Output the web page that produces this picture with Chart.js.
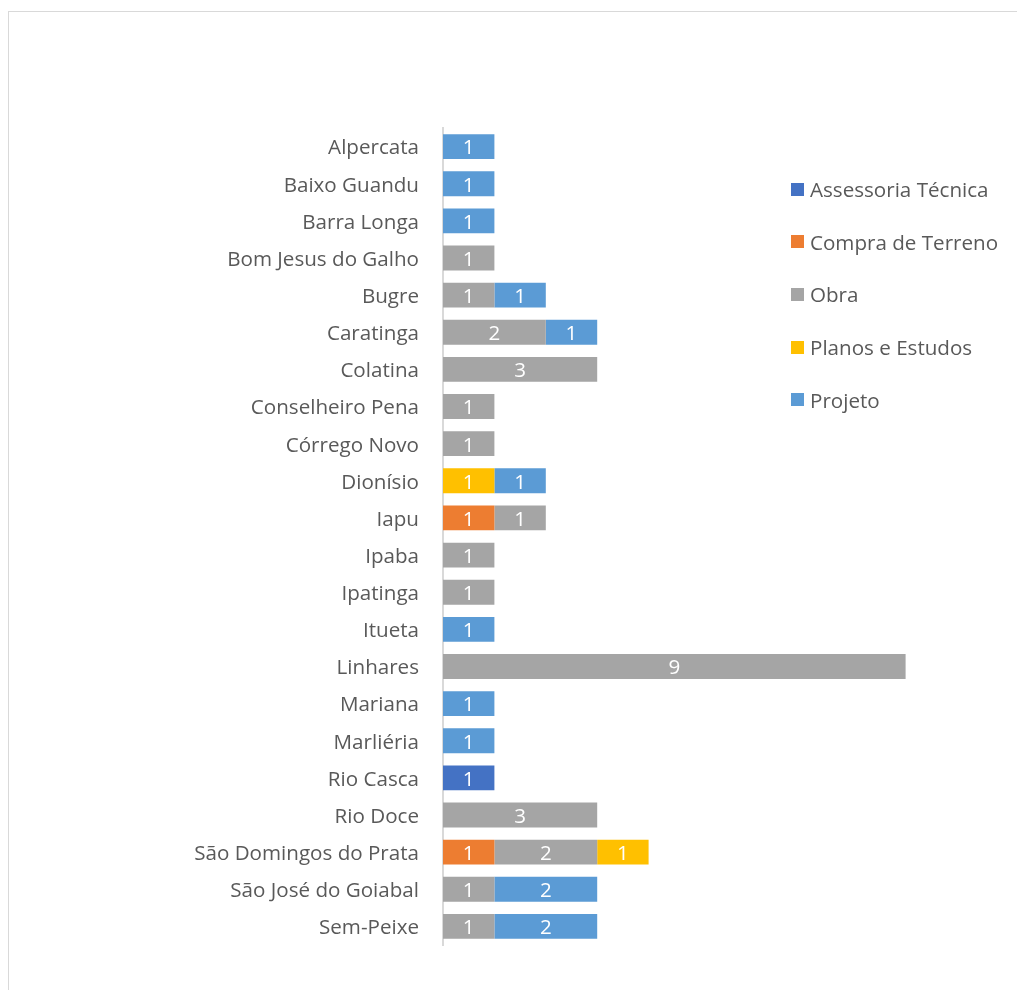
<!DOCTYPE html>
<html>
<head>
<meta charset="utf-8">
<script src="https://cdn.jsdelivr.net/npm/chart.js@4.4.1/dist/chart.umd.min.js"></script>
<style>
  html, body { margin: 0; padding: 0; background: #fff; }
  #wrap { position: relative; width: 1017px; height: 990px; overflow: hidden; }
  #frame { position: absolute; left: 8px; top: 11px; width: 1100px; height: 1100px; border: 1px solid #d9d9d9; box-sizing: border-box; }
  canvas { position: absolute; left: 0; top: 0; }
  #legend { position: absolute; left: 791px; top: 163px; font-family: "Open Sans", Lato, sans-serif; font-size: 20.6px; color: #595959; }
  .item { height: 52.6px; display: flex; align-items: center; white-space: nowrap; }
  .sw { width: 13px; height: 13px; margin-right: 6px; }
</style>
</head>
<body>
<div id="wrap">
  <div id="frame"></div>
  <canvas id="c" width="1017" height="990"></canvas>
  <div id="legend"></div>
</div>
<script>
const categories = ["Alpercata","Baixo Guandu","Barra Longa","Bom Jesus do Galho","Bugre","Caratinga","Colatina","Conselheiro Pena","Córrego Novo","Dionísio","Iapu","Ipaba","Ipatinga","Itueta","Linhares","Mariana","Marliéria","Rio Casca","Rio Doce","São Domingos do Prata","São José do Goiabal","Sem-Peixe"];
const seriesNames = ["Assessoria Técnica","Compra de Terreno","Obra","Planos e Estudos","Projeto"];
const assessoriaTecnica = [null,null,null,null,null,null,null,null,null,null,null,null,null,null,null,null,null,1,null,null,null,null];
const compraDeTerreno   = [null,null,null,null,null,null,null,null,null,null,1,null,null,null,null,null,null,null,null,1,null,null];
const obra              = [null,null,null,1,1,2,3,1,1,null,1,1,1,null,9,null,null,null,3,2,1,1];
const planosEEstudos    = [null,null,null,null,null,null,null,null,null,1,null,null,null,null,null,null,null,null,null,1,null,null];
const projeto           = [1,1,1,null,1,1,null,null,null,1,null,null,null,1,null,1,1,null,null,null,2,2];
const seriesColors = ["#4472C4","#ED7D31","#A5A5A5","#FFC000","#5B9BD5"];
const seriesData = [assessoriaTecnica, compraDeTerreno, obra, planosEEstudos, projeto];

const FONT = '"Open Sans", Lato, sans-serif';

const valueLabels = {
  id: 'valueLabels',
  afterDatasetsDraw(chart) {
    const ctx = chart.ctx;
    ctx.save();
    ctx.fillStyle = '#ffffff';
    ctx.font = '20.6px ' + FONT;
    ctx.textAlign = 'center';
    ctx.textBaseline = 'middle';
    chart.data.datasets.forEach((ds, i) => {
      const meta = chart.getDatasetMeta(i);
      meta.data.forEach((bar, j) => {
        const v = ds.data[j];
        if (v == null) return;
        const p = bar.getProps(['x','y','base'], true);
        ctx.fillText(String(v), (p.x + p.base) / 2, p.y + 2);
      });
    });
    ctx.restore();
  }
};

new Chart(document.getElementById('c'), {
  type: 'bar',
  data: {
    labels: categories,
    datasets: seriesNames.map((n, i) => ({
      label: n,
      data: seriesData[i],
      backgroundColor: seriesColors[i],
      borderWidth: 0,
      barPercentage: 0.67,
      categoryPercentage: 1.0
    }))
  },
  options: {
    indexAxis: 'y',
    responsive: false,
    animation: false,
    layout: { padding: { top: 128, bottom: 45, right: 60, left: 0 } },
    plugins: { legend: { display: false }, tooltip: { enabled: false } },
    scales: {
      x: { stacked: true, display: false, min: 0, max: 10 },
      y: {
        stacked: true,
        grid: { display: false, drawTicks: false },
        border: { display: true, color: '#d9d9d9', width: 2 },
        ticks: { color: '#595959', font: { family: FONT, size: 20.6 }, padding: 24, labelOffset: 2, autoSkip: false },
        afterFit(scale) { scale.width = 443; }
      }
    }
  },
  plugins: [valueLabels]
});

const lg = document.getElementById('legend');
seriesNames.forEach((n, i) => {
  const d = document.createElement('div');
  d.className = 'item';
  d.innerHTML = '<span class="sw" style="background:' + seriesColors[i] + '"></span><span>' + n + '</span>';
  lg.appendChild(d);
});
</script>
</body>
</html>
